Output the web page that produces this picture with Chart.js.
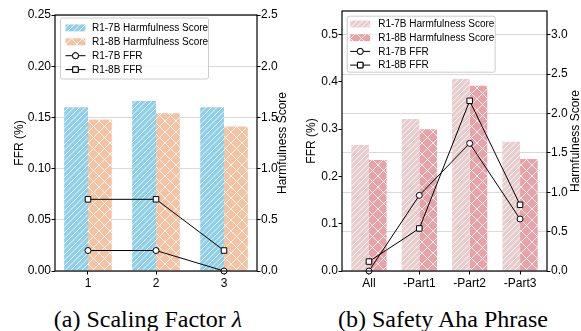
<!DOCTYPE html>
<html><head><meta charset="utf-8">
<script src="https://cdn.jsdelivr.net/npm/chart.js@4/dist/chart.umd.min.js"></script>
<style>
html,body{margin:0;padding:0;background:#fff;}
#wrap{position:relative;width:581px;height:331px;overflow:hidden;background:#fff;}
canvas{position:absolute;top:0;}
.cap{position:absolute;font-family:"Liberation Serif","Times New Roman",serif;font-size:24px;line-height:24px;color:#000;white-space:nowrap;transform:translateX(-50%);top:307px;}
</style></head><body>
<div id="wrap">
<canvas id="ca" width="290" height="300" style="left:0"></canvas>
<canvas id="cb" width="291" height="300" style="left:290px"></canvas>
<div class="cap" style="left:148px">(a) Scaling Factor <i>λ</i></div>
<div class="cap" style="left:443px">(b) Safety Aha Phrase</div>
</div>
<script>
// ---------- data ----------
const seriesNames = ['R1-7B Harmfulness Score','R1-8B Harmfulness Score','R1-7B FFR','R1-8B FFR'];

const catsA = ['1','2','3'];
const harm7A = [1.60, 1.66, 1.60];
const harm8A = [1.48, 1.54, 1.41];
const ffr7A = [0.02, 0.02, 0.00];
const ffr8A = [0.07, 0.07, 0.02];
const ffrTicksA = [0, 0.05, 0.10, 0.15, 0.20, 0.25];
const harmTicksA = [0, 0.5, 1.0, 1.5, 2.0, 2.5];

const catsB = ['All','-Part1','-Part2','-Part3'];
const harm7B = [1.60, 1.93, 2.44, 1.64];
const harm8B = [1.41, 1.80, 2.35, 1.42];
const ffr7B = [0.00, 0.16, 0.27, 0.11];
const ffr8B = [0.02, 0.09, 0.36, 0.14];
const ffrTicksB = [0, 0.1, 0.2, 0.3, 0.4, 0.5];
const harmTicksB = [0, 0.5, 1.0, 1.5, 2.0, 2.5, 3.0];

// ---------- styling helpers ----------
const FONT = '"Liberation Sans", Arial, Helvetica, sans-serif';
const tmpCtx = document.createElement('canvas').getContext('2d');
function hatch(color, kind){
  const s = 11;
  const c = document.createElement('canvas'); c.width = s; c.height = s;
  const g = c.getContext('2d');
  g.fillStyle = color; g.fillRect(0,0,s,s);
  g.strokeStyle = 'rgba(255,255,255,0.8)'; g.lineWidth = 1;
  g.beginPath();
  if (kind === '//') {
    for (let o = -s; o <= s; o += s/2) { g.moveTo(o, s); g.lineTo(o + s, 0); }
  } else {
    for (let o = -s; o <= s; o += s) { g.moveTo(o, s); g.lineTo(o + s, 0); g.moveTo(o, 0); g.lineTo(o + s, s); }
  }
  g.stroke();
  return tmpCtx.createPattern(c, 'repeat');
}

const framePlugin = {
  id: 'frame',
  afterDatasetsDraw(chart){
    const {ctx, chartArea:a} = chart;
    ctx.save();
    ctx.strokeStyle = '#000'; ctx.lineWidth = 1.2;
    ctx.strokeRect(a.left, a.top, a.right - a.left, a.bottom - a.top);
    ctx.restore();
  }
};

const rightTitlePlugin = {
  id: 'rightTitle',
  afterDraw(chart, args, o){
    const {ctx, chartArea:a} = chart;
    ctx.save();
    ctx.translate(chart.width - o.offset, (a.top + a.bottom) / 2);
    ctx.rotate(-Math.PI / 2);
    ctx.font = '12px ' + FONT;
    ctx.fillStyle = '#000';
    ctx.textAlign = 'center';
    ctx.textBaseline = 'middle';
    ctx.fillText(o.text, 0, 0);
    ctx.restore();
  }
};

const legendPlugin = {
  id: 'boxLegend',
  afterDatasetsDraw(chart, args, o){
    const {ctx, chartArea:a} = chart;
    const x0 = a.left + o.dx, y0 = a.top + o.dy;
    ctx.save();
    ctx.fillStyle = 'rgba(255,255,255,0.8)';
    ctx.strokeStyle = '#cccccc'; ctx.lineWidth = 1;
    ctx.beginPath();
    if (ctx.roundRect) ctx.roundRect(x0 + 0.5, y0 + 0.5, o.w, o.h, 2); else ctx.rect(x0 + 0.5, y0 + 0.5, o.w, o.h);
    ctx.fill(); ctx.stroke();
    ctx.font = '10px ' + FONT;
    ctx.textBaseline = 'middle';
    o.order.forEach((di, i) => {
      const ds = chart.data.datasets[di];
      const cy = y0 + o.first + i * o.rowH;
      const hx = x0 + o.hx;
      if (ds.type === 'bar') {
        ctx.fillStyle = ds.backgroundColor;
        ctx.fillRect(hx, cy - 3.5, 20, 7);
      } else {
        ctx.strokeStyle = '#000'; ctx.lineWidth = 1;
        ctx.beginPath(); ctx.moveTo(hx, cy); ctx.lineTo(hx + 20, cy); ctx.stroke();
        ctx.fillStyle = '#fff';
        Chart.helpers.drawPoint(ctx, {pointStyle: ds.pointStyle, radius: ds.pointRadius, borderWidth: 1, rotation: 0}, hx + 10, cy);
        ctx.fill(); ctx.stroke();
      }
      ctx.fillStyle = '#000';
      ctx.fillText(ds.label, x0 + o.tx, cy + 0.5);
    });
    ctx.restore();
  }
};

function yScale(pos, max, ticks, dec, title, grid, titlePad, width){
  return {
    type: 'linear', position: pos, min: 0, max: max,
    afterBuildTicks: s => { s.ticks = ticks.map(v => ({value: v})); },
    afterFit: s => { s.width = width; },
    ticks: { callback: v => Number(v).toFixed(dec), font: {family: FONT, size: 12}, color: '#000', padding: 0.5, autoSkip: false },
    grid: { drawOnChartArea: grid, color: 'rgba(0,0,0,0.15)', lineWidth: 1, tickLength: 3.5, tickColor: '#000', tickWidth: 1 },
    border: { display: false },
    title: { display: !!title, text: title || '', font: {family: FONT, size: 12, lineHeight: 1.2}, color: '#000', padding: {top: titlePad, bottom: 0} }
  };
}
function xScale(cats){
  const n = cats.length, span = n - 1 + 0.7, pad = 0.05 * span;
  return {
    type: 'linear', min: -0.35 - pad, max: n - 1 + 0.35 + pad, offset: false,
    afterBuildTicks: s => { s.ticks = cats.map((c, i) => ({value: i})); },
    afterFit: s => { s.height = 29; },
    ticks: { callback: v => cats[v], font: {family: FONT, size: 12}, color: '#000', padding: 2, autoSkip: false, maxRotation: 0 },
    grid: { drawOnChartArea: false, offset: false, tickLength: 3.5, tickColor: '#000', tickWidth: 1 },
    border: { display: false }
  };
}

function makeChart(id, c){
  const pts = arr => arr.map((v, i) => ({x: i, y: v}));
  const lineDs = (label, arr, style, r) => ({
    type: 'line', label, data: pts(arr), yAxisID: 'y', order: 1, clip: false,
    borderColor: '#000', borderWidth: 1, tension: 0,
    pointStyle: style, pointRadius: r, pointBackgroundColor: '#fff', pointBorderColor: '#000', pointBorderWidth: 1
  });
  const barDs = (label, arr, pat) => ({
    type: 'bar', label, data: pts(arr), yAxisID: 'y1', order: 2,
    backgroundColor: pat, borderWidth: 0, categoryPercentage: 0.7, barPercentage: 1.0
  });
  return new Chart(document.getElementById(id), {
    type: 'bar',
    data: { datasets: [
      lineDs(seriesNames[2], c.ffr7, 'circle', 3),
      lineDs(seriesNames[3], c.ffr8, 'rect', 3.9),
      barDs(seriesNames[0], c.harm7, hatch(c.col7, '//')),
      barDs(seriesNames[1], c.harm8, hatch(c.col8, 'x'))
    ]},
    options: {
      responsive: false, animation: false, devicePixelRatio: 1, events: [],
      layout: { padding: {top: c.top, left: 0, right: 0, bottom: 0} },
      plugins: { legend: {display: false}, tooltip: {enabled: false}, boxLegend: c.legend,
                 rightTitle: {text: 'Harmfulness Score', offset: c.rtOff} },
      scales: {
        x: xScale(c.cats),
        y: yScale('left', c.ffrMax, c.ffrTicks, c.ffrDec, 'FFR (%)', c.leftGrid, c.ltPad, c.lw),
        y1: yScale('right', c.harmMax, c.harmTicks, 1, null, !c.leftGrid, 0, c.rw)
      }
    },
    plugins: [framePlugin, legendPlugin, rightTitlePlugin]
  });
}

makeChart('ca', {
  cats: catsA, harm7: harm7A, harm8: harm8A, ffr7: ffr7A, ffr8: ffr8A,
  ffrTicks: ffrTicksA, harmTicks: harmTicksA, ffrMax: 0.25, harmMax: 2.5, ffrDec: 2,
  col7: '#8fcfe8', col8: '#f3c3a4', leftGrid: true, ltPad: 12, lw: 55, rw: 33, top: 15, rtOff: 7,
  legend: {dx: 5, dy: 2.5, w: 148, h: 61, first: 10.4, rowH: 13.9, hx: 5.5, tx: 32, order: [2,3,0,1]}
});
makeChart('cb', {
  cats: catsB, harm7: harm7B, harm8: harm8B, ffr7: ffr7B, ffr8: ffr8B,
  ffrTicks: ffrTicksB, harmTicks: harmTicksB, ffrMax: 0.55, harmMax: 3.3, ffrDec: 1,
  col7: '#e8cdce', col8: '#e8a3a9', leftGrid: false, ltPad: 14, lw: 52, rw: 34, top: 11, rtOff: 5.5,
  legend: {dx: 4.7, dy: 4.7, w: 148, h: 56, first: 8.3, rowH: 13.7, hx: 3.5, tx: 31.5, order: [2,3,0,1]}
});
</script>
</body></html>
